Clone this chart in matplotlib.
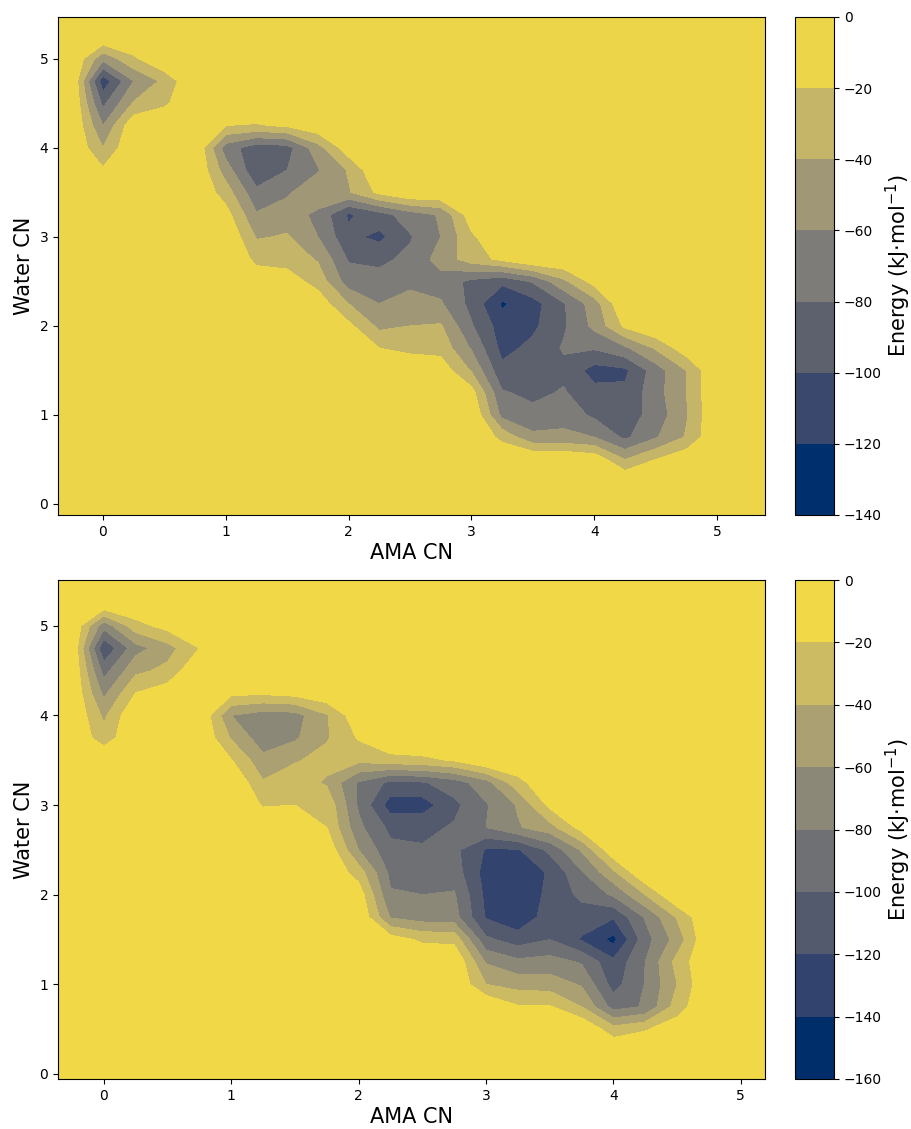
import matplotlib
matplotlib.use('Agg')
import matplotlib.pyplot as plt
import numpy as np

x_grid = np.arange(25) * 0.25 - 0.5
y_grid = 5.75 - np.arange(25) * 0.25   # rows below go from top to bottom

energia_topo = [
    [0]*25,
    [0]*25,
    [0]*25,
    [0,0,-55,-24] + [0]*21,
    [0,0,-113,-60,-35] + [0]*20,
    [0,0,-85,-38,-24] + [0]*20,
    [0,0,-60,-4,0,0,-20,-22,-17,-5] + [0]*15,
    [0,0,-40,0,0,0,-70,-92,-88,-48,-8] + [0]*14,
    [0,0,-17,0,0,0,-50,-96,-80,-62,-38] + [0]*14,
    [0]*6 + [-30,-75,-63,-45,-42,-15] + [0]*13,
    [0]*6 + [-12,-58,-50,-65,-103,-88,-70,-58,-8] + [0]*10,
    [0]*7 + [-42,-38,-60,-95,-105,-82,-60,-24] + [0]*10,
    [0]*7 + [-25,-28,-42,-82,-85,-75,-52,-30,-15] + [0]*9,
    [0]*7 + [-8,-10,-28,-70,-72,-65,-68,-85,-95,-78,-45,-12] + [0]*6,
    [0]*9 + [-8,-40,-60,-52,-58,-86,-123,-108,-82,-50] + [0]*6,
    [0]*10 + [-15,-45,-40,-38,-78,-110,-104,-83,-55,-16] + [0]*5,
    [0]*11 + [-20,-27,-27,-62,-106,-95,-78,-78,-64,-38,-8] + [0]*3,
    [0]*13 + [-8,-42,-95,-88,-85,-108,-104,-70,-40] + [0]*3,
    [0]*14 + [-12,-78,-85,-78,-94,-96,-68,-40] + [0]*3,
    [0]*15 + [-66,-74,-68,-84,-90,-72,-42] + [0]*3,
    [0]*15 + [-26,-55,-55,-60,-84,-62,-38] + [0]*3,
    [0]*18 + [-6,-40,-20,-5] + [0]*3,
    [0]*25,
    [0]*25,
    [0]*25,
]

energia_base = [
    [0]*25,
    [0]*25,
    [0]*25,
    [0,0,-72,-28,-12] + [0]*20,
    [0,0,-118,-68,-48,-20] + [0]*19,
    [0,0,-88,-45,-35] + [0]*20,
    [0,0,-65,-20,-8,0,-15,-16,-12,-3] + [0]*15,
    [0,0,-44,0,0,0,-60,-70,-68,-42,-5] + [0]*14,
    [0,0,-32,0,0,0,-42,-72,-63,-42,-18] + [0]*14,
    [0]*6 + [-19,-54,-42,-33,-35,-28,-25,-18] + [0]*11,
    [0]*7 + [-38,-28,-43,-82,-105,-102,-90,-68,-28] + [0]*9,
    [0]*7 + [-22,-20,-25,-83,-130,-130,-105,-82,-58,-15] + [0]*8,
    [0]*8 + [-5,-20,-75,-105,-105,-98,-80,-62,-48,-12] + [0]*7,
    [0]*9 + [-5,-60,-95,-98,-95,-122,-122,-95,-58,-5] + [0]*6,
    [0]*10 + [-30,-85,-88,-90,-128,-132,-118,-82,-44] + [0]*6,
    [0]*10 + [-8,-78,-80,-78,-125,-135,-115,-95,-77,-40] + [0]*5,
    [0]*11 + [-62,-70,-72,-122,-135,-110,-110,-118,-78,-38] + [0]*4,
    [0]*11 + [-10,-24,-26,-96,-110,-100,-122,-146,-88,-52] + [0]*4,
    [0]*14 + [-62,-75,-72,-82,-115,-80,-33] + [0]*4,
    [0]*14 + [-40,-48,-50,-62,-108,-79,-40] + [0]*4,
    [0]*15 + [-18,-18,-40,-88,-78,-30] + [0]*4,
    [0]*18 + [-32,-22,-8] + [0]*4,
    [0]*25,
    [0]*25,
    [0]*25,
]

niveis_topo = [-140, -120, -100, -80, -60, -40, -20, 0]
niveis_base = [-160, -140, -120, -100, -80, -60, -40, -20, 0]

fig = plt.figure(figsize=(9.12, 11.29), dpi=100)
W, H = 912.0, 1129.0

def painel(energia, niveis, y_px, xlim, ylim):
    topo, base = y_px
    ax = fig.add_axes([58/W, 1 - base/H, (765-58)/W, (base-topo)/H])
    cax = fig.add_axes([795/W, 1 - base/H, (834-795)/W, (base-topo)/H])
    cs = ax.contourf(x_grid, y_grid[::-1], np.array(energia)[::-1], levels=niveis, cmap='cividis')
    ax.set_xlim(*xlim)
    ax.set_ylim(*ylim)
    ax.set_xticks([0, 1, 2, 3, 4, 5])
    ax.set_yticks([0, 1, 2, 3, 4, 5])
    ax.set_xlabel('AMA CN', fontsize=15, labelpad=3)
    ax.set_ylabel('Water CN', fontsize=15, labelpad=4)
    cb = fig.colorbar(cs, cax=cax, ticks=niveis)
    cb.set_label(r'Energy (kJ$\cdot$mol$^{-1}$)', fontsize=15, labelpad=1.5)
    return ax

painel(energia_topo, niveis_topo, (17, 515), (-0.366, 5.39), (-0.124, 5.47))
painel(energia_base, niveis_base, (580, 1079), (-0.36, 5.19), (-0.056, 5.51))

plt.savefig('out.png', dpi=100)
